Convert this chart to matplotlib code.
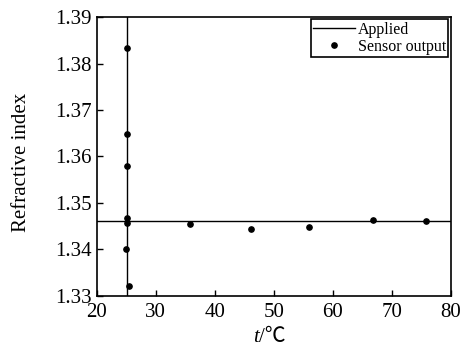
import matplotlib.pyplot as plt

plt.rcParams['font.family'] = ['Liberation Serif', 'DejaVu Serif']

# Applied values
applied_t = 25.1
applied_n = 1.3462

# Sensor output points
sensor_t = [25.2, 25.1, 25.1, 25.1, 25.1, 24.9, 25.5, 35.8, 46.1, 55.9, 66.8, 75.8]
sensor_n = [1.3833, 1.3648, 1.3580, 1.3467, 1.3458, 1.3401, 1.3322,
            1.3455, 1.3443, 1.3448, 1.3463, 1.3462]

x_ticks = [20, 30, 40, 50, 60, 70, 80]
y_ticks = [1.33, 1.34, 1.35, 1.36, 1.37, 1.38, 1.39]

fig = plt.figure(figsize=(4.61, 3.47), dpi=100)
ax = fig.add_axes([0.21, 0.147, 0.768, 0.804])

ax.axhline(applied_n, color='black', lw=1.0, label='Applied')
ax.axvline(applied_t, color='black', lw=1.0)
ax.plot(sensor_t, sensor_n, 'o', color='black', ms=3.8, label='Sensor output')

ax.set_xlim(20, 80)
ax.set_ylim(1.33, 1.39)
ax.set_xticks(x_ticks)
ax.set_yticks(y_ticks)
ax.set_yticklabels([f'{v:.2f}' for v in y_ticks])
ax.tick_params(direction='in', labelsize=15, length=4, width=1)
ax.tick_params(axis='x', pad=5)
for s in ax.spines.values():
    s.set_linewidth(1.2)

# x label: italic t followed by /℃
ax.text(0.457, -0.113, 't', transform=ax.transAxes, ha='right', va='top',
        fontsize=15, fontstyle='italic')
ax.text(0.457, -0.113, '/℃', transform=ax.transAxes, ha='left', va='top',
        fontsize=15, fontweight='light',
        family=['Liberation Serif', 'Noto Sans CJK SC'])

ax.set_ylabel('Refractive index', fontsize=15)
ax.yaxis.set_label_coords(-0.186, 0.478)

leg = ax.legend(loc='upper right', fontsize=11.5, fancybox=False, framealpha=1,
                edgecolor='black', handlelength=2.6, handletextpad=0.2,
                borderpad=0.15, labelspacing=0.05, borderaxespad=0.15)
leg.get_frame().set_linewidth(1.2)

fig.savefig('out.png', dpi=100)
